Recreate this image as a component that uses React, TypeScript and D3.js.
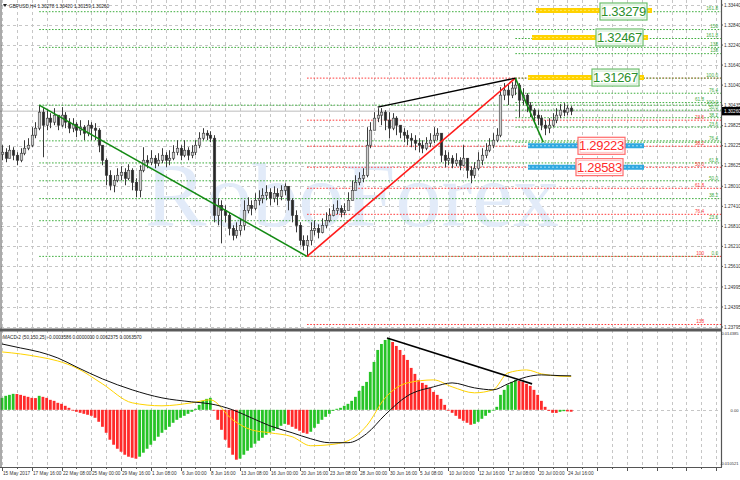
import React from "react";
import * as d3 from "d3";

// ---------- price data (GBPUSD H4) ----------
const firstOpen = 1.2897;
const closes = [
  1.2903, 1.2885, 1.2909, 1.2894, 1.2879, 1.29, 1.2915, 1.2924, 1.2954, 1.2975,
  1.3023, 1.2984, 1.3005, 1.2993, 1.3014, 1.2984, 1.3014, 1.2993, 1.2975, 1.2987,
  1.2969, 1.2978, 1.296, 1.2984, 1.2975, 1.2969, 1.2924, 1.2879, 1.2834, 1.2804,
  1.2819, 1.2834, 1.2843, 1.2825, 1.2849, 1.2813, 1.2789, 1.2849, 1.2879, 1.2873,
  1.2885, 1.287, 1.2879, 1.2894, 1.2879, 1.2885, 1.2903, 1.2915, 1.2894, 1.2909,
  1.2894, 1.2903, 1.2924, 1.2945, 1.296, 1.2954, 1.2945, 1.2714, 1.2744, 1.2729,
  1.2714, 1.2675, 1.2654, 1.2669, 1.2684, 1.2729, 1.2744, 1.2735, 1.2759, 1.2765,
  1.2774, 1.2783, 1.2765, 1.278, 1.2771, 1.2789, 1.2801, 1.2759, 1.2714, 1.2684,
  1.2639, 1.2624, 1.2639, 1.2669, 1.2675, 1.2663, 1.2684, 1.2699, 1.2714, 1.2729,
  1.2735, 1.2723, 1.2729, 1.2759, 1.2789, 1.2813, 1.2825, 1.2834, 1.2924, 1.2969,
  1.3005, 1.3014, 1.3023, 1.2999, 1.2975, 1.3005, 1.2984, 1.2963, 1.2954, 1.2945,
  1.2939, 1.293, 1.2924, 1.2915, 1.293, 1.2939, 1.2954, 1.296, 1.2894, 1.2879,
  1.2885, 1.287, 1.2879, 1.2864, 1.2885, 1.2849, 1.2834, 1.2855, 1.2879, 1.2894,
  1.2909, 1.2924, 1.2939, 1.2954, 1.3074, 1.3089, 1.3074, 1.3095, 1.3104, 1.3059,
  1.3074, 1.3044, 1.3029, 1.3014, 1.3005, 1.2984, 1.2975, 1.2984, 1.2999, 1.3014,
  1.3029, 1.3023, 1.3035, 1.3026,
];
const highs = [
  1.2924, 1.2915, 1.2924, 1.2918, 1.2903, 1.2915, 1.2939, 1.2945, 1.2978, 1.2993,
  1.3044, 1.3035, 1.3029, 1.302, 1.3035, 1.3014, 1.3038, 1.3023, 1.3005, 1.3005,
  1.2993, 1.2999, 1.2984, 1.2999, 1.2993, 1.299, 1.2975, 1.2924, 1.2885, 1.2849,
  1.2834, 1.2855, 1.2861, 1.2855, 1.2867, 1.2855, 1.2825, 1.2864, 1.2918, 1.2894,
  1.2909, 1.2894, 1.29, 1.2915, 1.2903, 1.2909, 1.2924, 1.2939, 1.2924, 1.2939,
  1.2918, 1.2924, 1.2939, 1.2963, 1.2975, 1.2969, 1.2966, 1.2954, 1.2765, 1.2759,
  1.2744, 1.2723, 1.2684, 1.2693, 1.2705, 1.2759, 1.2768, 1.2759, 1.278, 1.2789,
  1.2795, 1.2804, 1.2795, 1.2801, 1.2795, 1.2804, 1.281, 1.2795, 1.2765, 1.2729,
  1.2693, 1.2654, 1.2654, 1.2693, 1.2699, 1.2687, 1.2705, 1.2723, 1.2735, 1.2747,
  1.2759, 1.2744, 1.275, 1.2783, 1.2819, 1.2834, 1.2843, 1.2855, 1.2978, 1.2993,
  1.3023, 1.3035, 1.3035, 1.3029, 1.3023, 1.302, 1.3011, 1.2984, 1.2975, 1.2969,
  1.296, 1.2954, 1.2945, 1.2939, 1.2948, 1.296, 1.2978, 1.2975, 1.296, 1.2909,
  1.2903, 1.2894, 1.29, 1.2888, 1.2924, 1.2885, 1.2861, 1.2873, 1.2903, 1.2915,
  1.293, 1.2945, 1.296, 1.2975, 1.3098, 1.311, 1.3104, 1.3113, 1.3125, 1.311,
  1.3095, 1.308, 1.3053, 1.3035, 1.3029, 1.3014, 1.2999, 1.3005, 1.302, 1.3035,
  1.3047, 1.305, 1.3044, 1.3041,
];
const lows = [
  1.2879, 1.2873, 1.2885, 1.2879, 1.2864, 1.2873, 1.2894, 1.2909, 1.2918, 1.2945,
  1.2969, 1.2888, 1.2969, 1.2975, 1.2984, 1.2969, 1.2978, 1.2975, 1.296, 1.2963,
  1.2948, 1.2954, 1.2939, 1.2951, 1.2939, 1.2939, 1.2903, 1.2864, 1.2804, 1.2789,
  1.2783, 1.2813, 1.2819, 1.2804, 1.2819, 1.2789, 1.2768, 1.2768, 1.2843, 1.2855,
  1.2864, 1.2855, 1.2861, 1.287, 1.2858, 1.2864, 1.2879, 1.2894, 1.2879, 1.2888,
  1.2879, 1.2885, 1.2894, 1.2915, 1.2939, 1.2939, 1.2933, 1.2693, 1.2684, 1.263,
  1.2693, 1.2654, 1.2639, 1.2645, 1.2654, 1.2669, 1.272, 1.2714, 1.2729, 1.2744,
  1.275, 1.2759, 1.2744, 1.2753, 1.2744, 1.2759, 1.2774, 1.2729, 1.2693, 1.2663,
  1.2624, 1.2609, 1.2591, 1.2624, 1.2654, 1.2645, 1.266, 1.2675, 1.2693, 1.2711,
  1.2717, 1.2708, 1.2714, 1.2729, 1.2759, 1.2789, 1.2804, 1.2813, 1.2828, 1.2915,
  1.2969, 1.2993, 1.2984, 1.2969, 1.2945, 1.2969, 1.2954, 1.2945, 1.2933, 1.2924,
  1.2918, 1.2909, 1.2903, 1.29, 1.2909, 1.2918, 1.293, 1.2939, 1.2873, 1.2858,
  1.2864, 1.2855, 1.2861, 1.2849, 1.2861, 1.2825, 1.281, 1.2825, 1.2849, 1.2864,
  1.2885, 1.2903, 1.2915, 1.2933, 1.2948, 1.3059, 1.3044, 1.3065, 1.3074, 1.3008,
  1.3044, 1.3023, 1.3008, 1.2993, 1.2984, 1.2969, 1.2954, 1.296, 1.2978, 1.299,
  1.3005, 1.3011, 1.3014, 1.3014,
];
const lastPrice = 1.3026;

// ---------- axis labels ----------
const timeLabels = [
  "15 May 2017", "17 May 16:00", "22 May 08:00", "25 May 00:00", "29 May 16:00",
  "1 Jun 08:00", "6 Jun 00:00", "8 Jun 16:00", "13 Jun 08:00", "16 Jun 00:00",
  "20 Jun 16:00", "23 Jun 08:00", "28 Jun 00:00", "30 Jun 16:00", "5 Jul 08:00",
  "10 Jul 00:00", "12 Jul 16:00", "17 Jul 08:00", "20 Jul 00:00", "24 Jul 16:00",
];
const priceTicks = [
  1.3344, 1.3284, 1.3224, 1.3164, 1.3104, 1.30435, 1.29825, 1.29225, 1.28625,
  1.2801, 1.2741, 1.2681, 1.2621, 1.2561, 1.24995, 1.24395, 1.23795,
];
const macdTicks = [0.014385, 0, -0.010521];
const macdTickLabels = ["0.014385", "0.00", "-0.010521"];

// ---------- MACD (50,150,25) ----------
const histogram = [
  0.00224, 0.00262, 0.0028, 0.00299, 0.00296, 0.0028, 0.00262, 0.00243, 0.00224, 0.0022,
  0.00262, 0.00243, 0.00224, 0.00187, 0.00168, 0.00131, 0.00112, 0.00075, 0.00037, -0.0001,
  -0.00037, -0.00056, -0.00075, -0.00093, -0.00112, -0.00149, -0.00224, -0.00318, -0.0043, -0.0056,
  -0.00654, -0.00729, -0.00785, -0.00841, -0.00878, -0.00897, -0.00915, -0.00878, -0.00803, -0.00729,
  -0.00654, -0.00579, -0.00504, -0.0043, -0.00374, -0.00318, -0.00243, -0.00187, -0.00149, -0.00112,
  -0.00075, -0.00037, 0.00019, 0.00093, 0.00168, 0.00205, 0.00224, 0.0, -0.00187, -0.00374,
  -0.0056, -0.0071, -0.00841, -0.00934, -0.00915, -0.00841, -0.00766, -0.0071, -0.00635, -0.00579,
  -0.00523, -0.00467, -0.0043, -0.00392, -0.00355, -0.00299, -0.00262, -0.0028, -0.00318, -0.00355,
  -0.00392, -0.0043, -0.00448, -0.00411, -0.00336, -0.00262, -0.00187, -0.00131, -0.00075, -0.00019,
  0.00019, 0.00037, 0.00075, 0.00112, 0.00168, 0.00243, 0.00355, 0.00448, 0.00523, 0.0071,
  0.00897, 0.01121, 0.01233, 0.01308, 0.01326, 0.0127, 0.01196, 0.01121, 0.01027, 0.00934,
  0.00785, 0.00673, 0.0056, 0.00504, 0.00467, 0.00411, 0.00336, 0.0028, 0.00205, 0.00093,
  -0.00005, -0.00056, -0.00112, -0.00168, -0.00205, -0.00243, -0.0028, -0.00262, -0.00224, -0.00168,
  -0.00112, -0.00056, 0.0, 0.00056, 0.0028, 0.00374, 0.00467, 0.00523, 0.0056, 0.00542,
  0.00523, 0.00486, 0.00448, 0.00374, 0.0028, 0.00168, 0.00056, -0.00019, -0.00056, -0.00058,
  -0.00037, -0.00025, -0.0003, -0.00036,
];
const lineIdx = [0, 5, 10, 15, 20, 27, 35, 43, 51, 56, 62, 67, 72, 78, 83, 88, 93, 98, 103, 109, 116, 121, 127, 132, 136, 141, 145, 150, 153];
const macdSignal = [0.01233, 0.01158, 0.01084, 0.00971, 0.00803, 0.00579, 0.00374, 0.00224, 0.00149, 0.00112, 0.0, -0.00149, -0.00299, -0.0043, -0.00542, -0.00616, -0.00616, -0.00448, -0.00093, 0.00262, 0.0043, 0.00504, 0.00411, 0.00374, 0.00486, 0.00616, 0.00654, 0.0064, 0.00636];
const macdMain = [0.01084, 0.01046, 0.0099, 0.00915, 0.00785, 0.00486, 0.00131, 0.00075, 0.00131, 0.00187, -0.00187, -0.00374, -0.0043, -0.00504, -0.00673, -0.00654, -0.00579, -0.00299, 0.00224, 0.00504, 0.0056, 0.0043, 0.00318, 0.00374, 0.00691, 0.00747, 0.00673, 0.0063, 0.00624];
const macdDivIdx = [103.5, 142.5];
const macdDivVal = [0.01345, 0.00486];

// ---------- drawn objects ----------
const zigzagIdx = [10, 82, 138, 145.5];
const zigzagPrice = [1.3044, 1.2591, 1.3125, 1.2933];
const divIdx = [101, 138];
const divPrice = [1.3038, 1.3125];
const fibRatiosA = [0, 23.6, 38.2, 50, 61.8, 76.4, 100, 138.2, 150, 161.8];
const fibLabelsA = ["0.0", "23.6", "38.2", "50.0", "61.8", "76.4", "100.0", "138", "150", "161.8"];
const fibRatiosB = [0, 23.6, 38.2, 50, 61.8, 76.4, 100, 138.2];
const fibLabelsB = ["", "23.6", "38.2", "50.0", "61.8", "76.4", "100", "138"];
const fibRatiosC = [0, 23.6, 38.2, 50, 61.8, 76.4, 100, 138.2, 161.8];
const fibLabelsC = ["", "23.6", "38.2", "50.0", "61.8", "76.4", "100.0", "138", "161.8"];
const targetPrices = [1.33279, 1.32467, 1.31267];
const supportPrices = [1.29223, 1.28583];

const headerText = "GBPUSD,H4  1.30278 1.30420 1.30159 1.30260";
const macdHeader = "MACD-2 (50,150,25) -0.0003586 0.0000000 0.0062375 0.0063570";

export default function App() {
  const W = 740, H = 480;
  const plotR = 721;
  const mainBottom = 328;
  const macdTop = 332;
  const macdBottom = 467;
  const step = 3.72;
  const x = d3.scaleLinear().domain([0, 1]).range([2, 2 + step]);
  const y = d3.scaleLinear().domain([1.23795, 1.3344]).range([327, 5]);
  const ym = d3.scaleLinear().domain([-0.010521, 0.014385]).range([466, 333]);
  const small = { fontFamily: "'Liberation Sans', Arial, sans-serif", fontSize: 4.7 };

  const gridX: number[] = [];
  for (let i = 0; x(i) < plotR; i += 4) gridX.push(i);

  const green = "#3fae3f";
  const red = "#ff3b3b";

  const fibA = { lo: zigzagPrice[1], hi: zigzagPrice[0], start: zigzagIdx[0] };
  const fibB = { lo: zigzagPrice[1], hi: zigzagPrice[2], start: zigzagIdx[1] };
  const fibC = { lo: zigzagPrice[3], hi: zigzagPrice[2], start: zigzagIdx[2] };
  const levA = fibRatiosA.map((r) => fibA.lo + (r / 100) * (fibA.hi - fibA.lo));
  const levB = fibRatiosB.map((r) => fibB.hi - (r / 100) * (fibB.hi - fibB.lo));
  const levC = fibRatiosC.map((r) => fibC.lo + (r / 100) * (fibC.hi - fibC.lo));

  const lineGen = (vals: number[]) =>
    d3.line<number>().x((_, k) => x(lineIdx[k])).y((v) => ym(v)).curve(d3.curveMonotoneX)(vals) || "";

  const zigColors = ["#138a13", "#ff1a1a", "#138a13"];

  const yellowBoxes = [600, 596, 592];
  const blueBoxes = [578, 576];

  const nearA = (p: number) => levA.some((q) => Math.abs(y(q) - y(p)) < 4.5);

  const renderBox = (cx0: number, price: number, border: string, inner: string, color: string, key: string) => {
    const bw = 47, bh = 17;
    const top = Math.max(3, y(price) - bh / 2);
    return (
      <g key={key}>
        <rect x={cx0} y={top} width={bw} height={bh} fill="#ffffff" stroke={border} strokeWidth={1.2} />
        <rect x={cx0 + 2} y={top + 2} width={bw - 4} height={bh - 4} fill="none" stroke={inner} strokeWidth={0.8} />
        <text x={cx0 + bw / 2} y={top + bh / 2 + 4.7} textAnchor="middle" fill={color}
          style={{ fontFamily: "'Liberation Sans', Arial, sans-serif", fontSize: 13, letterSpacing: -0.3 }}>
          {price.toFixed(5)}
        </text>
      </g>
    );
  };

  return (
    <svg width={W} height={H} style={{ position: "fixed", left: 0, top: 0, background: "#ffffff" }}>
      <defs>
        <clipPath id="mainClip"><rect x={0} y={0} width={plotR} height={mainBottom} /></clipPath>
        <clipPath id="macdClip"><rect x={0} y={macdTop} width={plotR} height={macdBottom - macdTop} /></clipPath>
      </defs>
      <rect x={0} y={0} width={W} height={H} fill="#ffffff" />

      {/* grid */}
      <g stroke="#c6c6c6" strokeWidth={1} strokeDasharray="3,3">
        {priceTicks.map((p) => (
          <line key={"hg" + p} x1={1} x2={plotR} y1={Math.round(y(p)) + 0.5} y2={Math.round(y(p)) + 0.5} />
        ))}
        {gridX.map((i) => (
          <line key={"vg" + i} x1={Math.round(x(i)) + 0.5} x2={Math.round(x(i)) + 0.5} y1={0} y2={macdBottom} />
        ))}
        <line x1={1} x2={plotR} y1={Math.round(ym(0)) + 0.5} y2={Math.round(ym(0)) + 0.5} />
      </g>

      {/* watermark */}
      <text x={352} y={226} textAnchor="middle" fill="#e2ebf9"
        style={{ fontFamily: "'Liberation Serif', 'Times New Roman', serif", fontSize: 92 }}>RoboForex</text>

      <g clipPath="url(#mainClip)">
        {/* bid line */}
        <line x1={0} x2={plotR} y1={y(lastPrice)} y2={y(lastPrice)} stroke="#bdbdbd" strokeWidth={1} />

        {/* fibo levels */}
        <g strokeWidth={1} strokeDasharray="1.6,1.6" fill="none">
          {levA.map((p, k) => (
            <line key={"fa" + k} x1={x(fibA.start)} x2={plotR} y1={y(p)} y2={y(p)} stroke={green} />
          ))}
          {levB.map((p, k) => (
            <line key={"fb" + k} x1={x(fibB.start)} x2={plotR} y1={y(p)} y2={y(p)} stroke={red} />
          ))}
          {levC.map((p, k) => (
            <line key={"fc" + k} x1={x(fibC.start)} x2={plotR} y1={y(p)} y2={y(p)} stroke={green} />
          ))}
        </g>
        <g style={small} textAnchor="end">
          {levA.map((p, k) => (
            <text key={"la" + k} x={718} y={y(p) - 1.2} fill={green}>{fibLabelsA[k]}</text>
          ))}
          {levC.map((p, k) => (
            <text key={"lc" + k} x={nearA(p) ? 704 : 718} y={y(p) - 1.2} fill={green}>{fibLabelsC[k]}</text>
          ))}
          {levB.map((p, k) => (
            <text key={"lb" + k} x={704} y={y(p) - 1.2} fill={red}>{fibLabelsB[k]}</text>
          ))}
        </g>

        {/* candles */}
        {closes.map((c, i) => {
          const o = i === 0 ? firstOpen : closes[i - 1];
          const h = Math.max(highs[i], o, c);
          const l = Math.min(lows[i], o, c);
          const cx = Math.round(x(i)) + 0.5;
          const top = y(Math.max(o, c));
          const bh = Math.max(1, Math.abs(y(o) - y(c)));
          const bull = c >= o;
          return (
            <g key={"c" + i}>
              <line x1={cx} x2={cx} y1={y(h)} y2={y(l)} stroke="#3a3a3a" strokeWidth={1} />
              <rect x={cx - 1.25} y={top} width={2.5} height={bh}
                fill={bull ? "#cfcfcf" : "#262626"} stroke="#3a3a3a" strokeWidth={0.6} />
            </g>
          );
        })}

        {/* trend lines */}
        {zigzagIdx.slice(0, -1).map((i0, k) => (
          <line key={"zz" + k} x1={x(i0)} y1={y(zigzagPrice[k])} x2={x(zigzagIdx[k + 1])} y2={y(zigzagPrice[k + 1])}
            stroke={zigColors[k]} strokeWidth={1.6} />
        ))}
        <line x1={x(divIdx[0])} y1={y(divPrice[0])} x2={x(divIdx[1])} y2={y(divPrice[1])} stroke="#000" strokeWidth={1.4} />

        {/* targets */}
        {targetPrices.map((p, k) => (
          <g key={"tg" + k}>
            <line x1={yellowBoxes[k] - 64} x2={yellowBoxes[k] + 52} y1={y(p)} y2={y(p)} stroke="#ffd200" strokeWidth={5} />
            <line x1={yellowBoxes[k] - 64} x2={yellowBoxes[k] + 52} y1={y(p)} y2={y(p)} stroke="#ffe866" strokeWidth={1} strokeDasharray="2,2" />
            {renderBox(yellowBoxes[k], p, "#6cbf6c", "#b9e2b9", "#2b8f2b", "tb" + k)}
          </g>
        ))}
        {supportPrices.map((p, k) => (
          <g key={"sp" + k}>
            <line x1={528} x2={644} y1={y(p)} y2={y(p)} stroke="#2fa8e0" strokeWidth={5} />
            <line x1={528} x2={644} y1={y(p)} y2={y(p)} stroke="#a9def6" strokeWidth={1} strokeDasharray="2,2" />
            {renderBox(blueBoxes[k], p, "#ff6a6a", "#ffb3b3", "#ff2a2a", "sb" + k)}
          </g>
        ))}
      </g>

      {/* MACD panel */}
      <g clipPath="url(#macdClip)">
        {histogram.map((v, i) => {
          const prev = i === 0 ? v : histogram[i - 1];
          const col = v >= prev ? "#27c427" : "#ff2a2a";
          const y0 = ym(0), y1 = ym(v);
          return (
            <rect key={"h" + i} x={x(i) - 1.4} y={Math.min(y0, y1)} width={2.8} height={Math.max(0.8, Math.abs(y1 - y0))} fill={col} />
          );
        })}
        <path d={lineGen(macdMain)} fill="none" stroke="#ffd400" strokeWidth={1} />
        <path d={lineGen(macdSignal)} fill="none" stroke="#111" strokeWidth={1} />
        <line x1={x(macdDivIdx[0])} y1={ym(macdDivVal[0])} x2={x(macdDivIdx[1])} y2={ym(macdDivVal[1])} stroke="#000" strokeWidth={1.6} />
      </g>

      {/* frame & separators */}
      <line x1={1} x2={1} y1={0} y2={macdBottom} stroke="#555" strokeWidth={1} />
      <rect x={0} y={mainBottom + 0.5} width={plotR + 1} height={3} fill="#5a5a5a" />
      <line x1={plotR + 0.5} x2={plotR + 0.5} y1={0} y2={macdBottom} stroke="#555" strokeWidth={1.2} />
      <line x1={0} x2={plotR + 1} y1={macdBottom + 0.5} y2={macdBottom + 0.5} stroke="#555" strokeWidth={1} />

      {/* price axis */}
      <g style={small} fill="#333">
        {priceTicks.map((p) => (
          <g key={"pt" + p}>
            <line x1={plotR} x2={plotR + 2} y1={y(p)} y2={y(p)} stroke="#555" />
            <text x={724} y={y(p) + 1.7}>{p.toFixed(5)}</text>
          </g>
        ))}
        <rect x={plotR + 1} y={y(lastPrice) - 4.2} width={W - plotR - 1} height={8.4} fill="#000" />
        <text x={724} y={y(lastPrice) + 1.7} fill="#fff">{lastPrice.toFixed(5)}</text>
        {macdTicks.map((v, k) => (
          <text key={"mt" + k} x={738.5} textAnchor="end" y={Math.min(ym(v) + 1.7, 465)} style={{ fontSize: 4.1 }}>{macdTickLabels[k]}</text>
        ))}
      </g>

      {/* time axis */}
      <g style={small} fill="#333">
        {gridX.map((i) => (
          <line key={"tk" + i} x1={Math.round(x(i)) + 0.5} x2={Math.round(x(i)) + 0.5} y1={macdBottom} y2={macdBottom + (i % 8 === 0 ? 4 : 2)} stroke="#555" />
        ))}
        {timeLabels.map((t, k) => (
          <text key={"tl" + k} x={Math.round(x(k * 8)) + 1} y={474.5}>{t}</text>
        ))}
      </g>

      {/* headers */}
      <g style={small} fill="#222">
        <path d="M3,4 L7,4 L5,7 Z" fill="#222" />
        <text x={9} y={7.5}>{headerText}</text>
        <text x={3} y={339}>{macdHeader}</text>
      </g>
    </svg>
  );
}
